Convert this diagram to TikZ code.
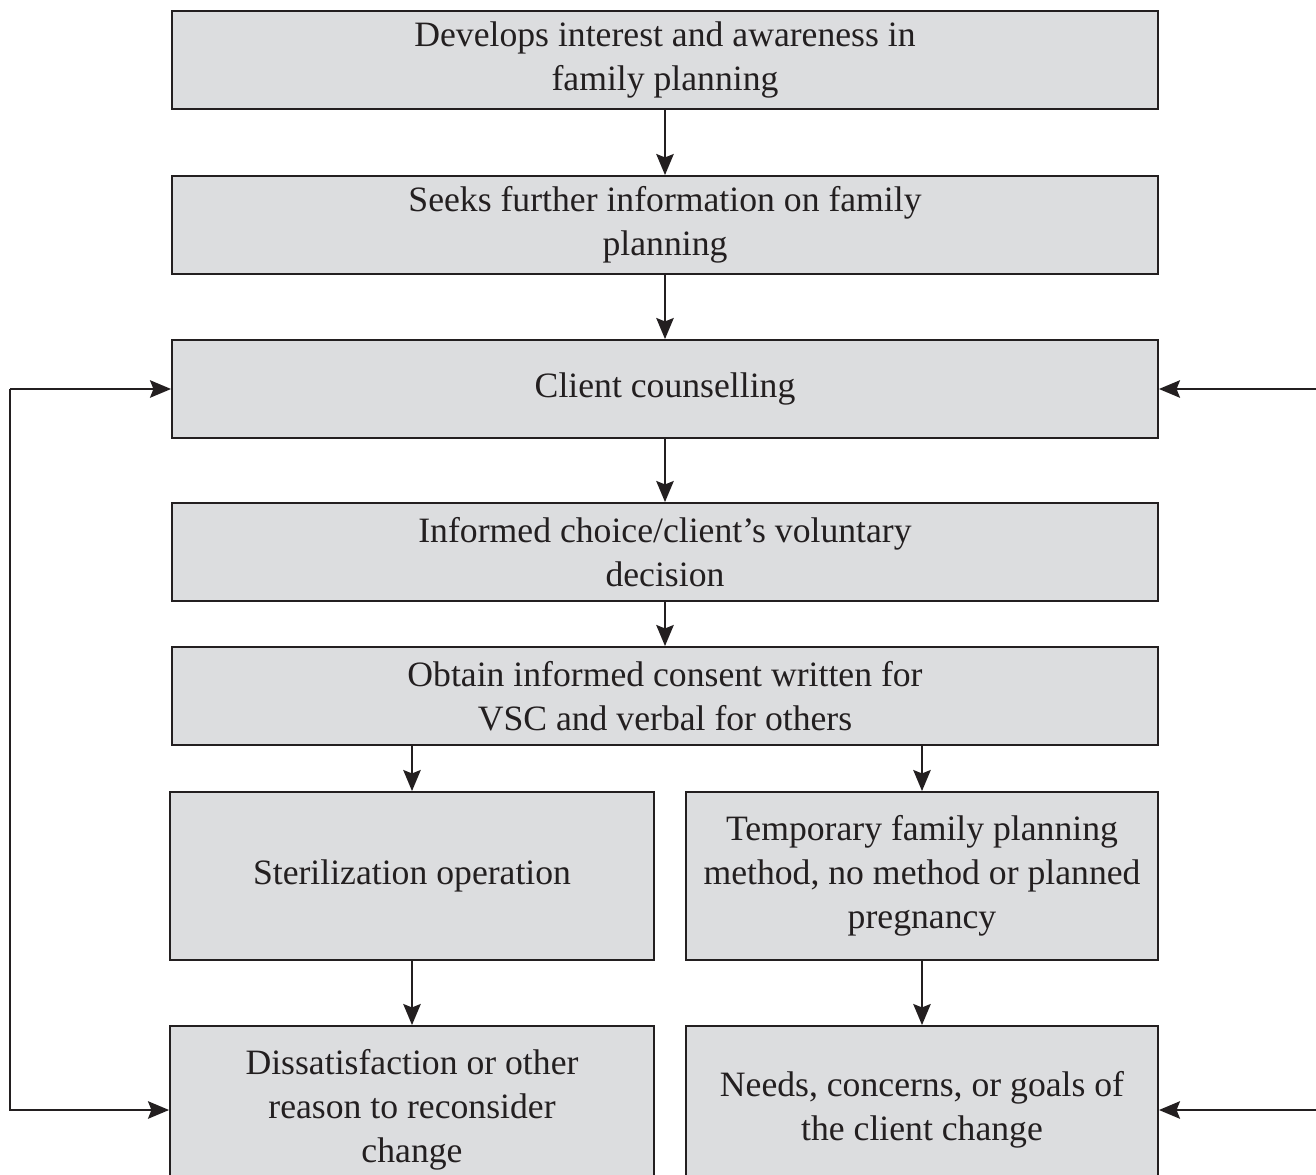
\documentclass[tikz,border=0pt]{standalone}
\usepackage{fontspec}
\setmainfont{Liberation Serif}
\usepackage{tikz}
\usetikzlibrary{arrows.meta,positioning}
\definecolor{FPPanel}{RGB}{220,221,223}
\definecolor{FPInk}{RGB}{35,31,32}

\begin{document}
\begin{tikzpicture}[
  box/.style={draw=FPInk,fill=FPPanel,line width=1.1pt,minimum width=19.72cm,minimum height=1.96cm,font=\fontsize{20.3}{25}\selectfont,text=FPInk,align=center,inner sep=0pt},
  tallbox/.style={box,minimum height=3.36cm},
  arr/.style={-{Stealth[length=12pt,width=10pt,inset=2pt]},line width=0.85pt,draw=FPInk}]
  \useasboundingbox (0,0) rectangle (26.32,-23.5);
  \node[box] (interest) at (13.3,-1.2) {Develops interest and awareness in\\family planning};
  \node[box] (seeks) at (13.3,-4.5) {Seeks further information on family\\planning};
  \node[box] (counsel) at (13.3,-7.78) {Client counselling};
  \node[box] (choice) at (13.3,-11.04) {Informed choice/client’s voluntary\\decision};
  \node[box] (consent) at (13.3,-13.92) {Obtain informed consent written for\\VSC and verbal for others};
  \node[tallbox,minimum width=9.68cm] (steril) at (8.24,-17.52) {Sterilization operation};
  \node[tallbox,minimum width=9.44cm] (temp) at (18.44,-17.52) {Temporary family planning\\method, no method or planned\\pregnancy};
  \node[tallbox,minimum width=9.68cm] (dissat) at (8.24,-22.2) {Dissatisfaction or other\\reason to reconsider\\change};
  \node[tallbox,minimum width=9.44cm] (needs) at (18.44,-22.2) {Needs, concerns, or goals of\\the client change};
  \coordinate (loopL) at (0.2,0);
  \coordinate (edgeR) at (26.4,0);
  \draw[arr] (interest)--(seeks);
  \draw[arr] (seeks)--(counsel);
  \draw[arr] (counsel)--(choice);
  \draw[arr] (choice)--(consent);
  \draw[arr] (consent.south -| steril)--(steril);
  \draw[arr] (consent.south -| temp)--(temp);
  \draw[arr] (steril)--(dissat);
  \draw[arr] (temp)--(needs);
  \draw[arr] (loopL |- counsel)--(counsel);
  \draw[arr] (loopL |- counsel)--(loopL |- dissat)--(dissat);
  \draw[arr] (edgeR |- counsel)--(counsel);
  \draw[arr] (edgeR |- needs)--(needs);
\end{tikzpicture}
\end{document}
